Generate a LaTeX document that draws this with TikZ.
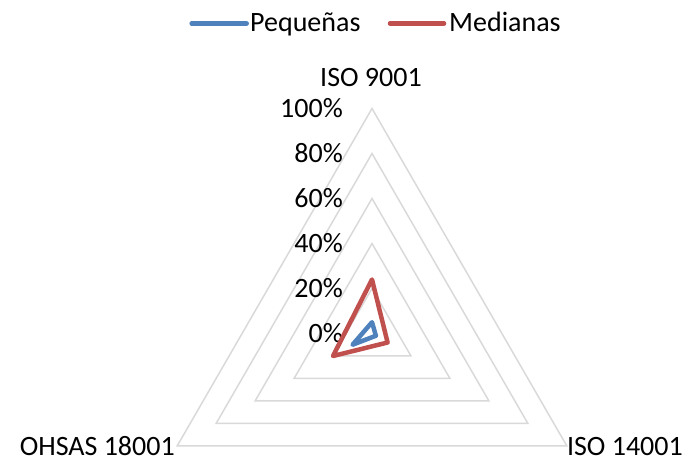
\documentclass[tikz,border=0pt]{standalone}
\usepackage{fontspec}
\setmainfont{Carlito}
\usetikzlibrary{positioning}
\definecolor{pequenas}{HTML}{4F81BD}
\definecolor{medianas}{HTML}{C0504D}
\definecolor{gridgray}{HTML}{D9D9D9}

\begin{document}
\begin{tikzpicture}[x=1pt,y=1pt,
    every node/.style={inner sep=0pt,font=\fontsize{28}{33}\selectfont},
    ring/.style={draw=gridgray,line width=1.5pt},
    serie/.style={line width=4.5pt,line join=round,line cap=round}]

  \useasboundingbox (0,0) rectangle (691,463);
  \coordinate (c) at (372,129.5);

  % rings, 45 per 20%
  \foreach \k in {1,...,5}
    \draw [ring,shift={(c)}] (90:45*\k) -- (210:45*\k) -- (330:45*\k) -- cycle;

  \foreach \k/\t in {0/0\%,1/20\%,2/40\%,3/60\%,4/80\%,5/100\%}
    \node [anchor=base east] (pct\k) at (343,{120.1+45*\k}) {\t};

  \node [anchor=base] (iso9001) at (371,376.3) {ISO 9001};
  \node [anchor=base east] (ohsas) at (175,7) {OHSAS 18001};
  \node [anchor=base east] (iso14001) at (683,7) {ISO 14001};

  % series, 2.25 per %
  \draw [serie,pequenas,shift={(c)}] (90:11.25) coordinate (pq1)
    -- (330:4.5) coordinate (pq2) -- (210:22.5) coordinate (pq3) -- cycle;
  \draw [serie,medianas,shift={(c)}] (90:54) coordinate (md1)
    -- (330:18) coordinate (md2) -- (210:45) coordinate (md3) -- cycle;

  % legend
  \coordinate (lp1) at (191.7,439.5);
  \coordinate (lp2) at (246.7,439.5);
  \draw [serie,pequenas] (lp1) -- (lp2);
  \node [anchor=base west] (legpq) at (250,431) {Pequeñas};

  \coordinate (lm1) at (390,439.5);
  \coordinate (lm2) at (444,439.5);
  \draw [serie,medianas] (lm1) -- (lm2);
  \node [anchor=base west] (legmd) at (449,431) {Medianas};

\end{tikzpicture}
\end{document}
